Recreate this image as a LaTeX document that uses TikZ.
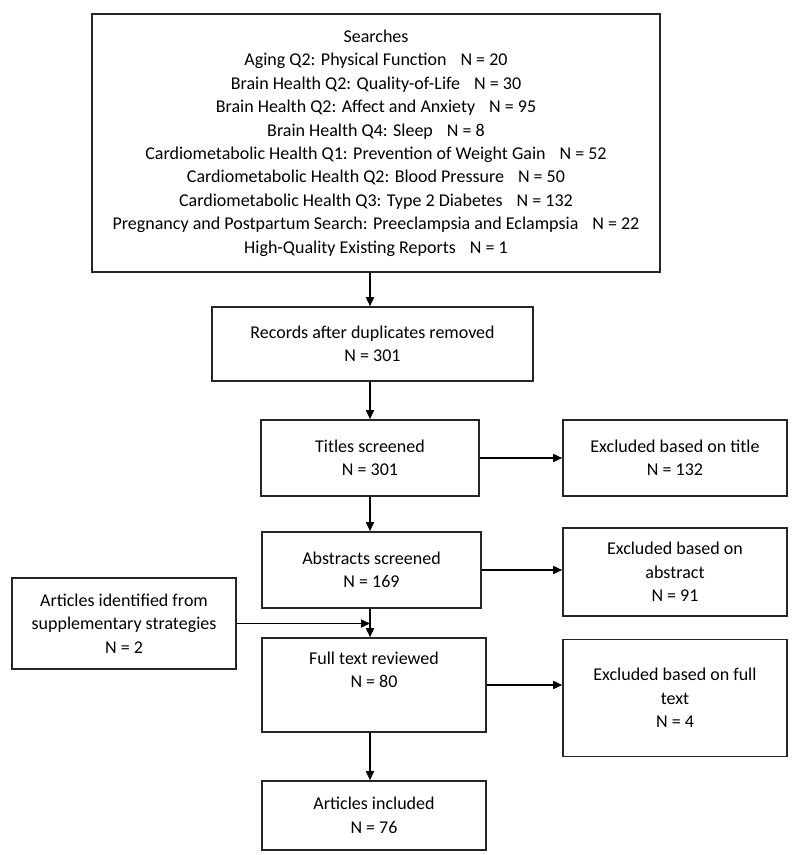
\documentclass[tikz,border=0pt]{standalone}
\usepackage{fontspec}
\setmainfont{Carlito}
\usetikzlibrary{arrows.meta}
\newcommand{\gp}{\hspace{14pt}}
\begin{document}
\begin{tikzpicture}[x=1pt,y=-1pt,
  box/.style={draw=black!85, line width=1.6pt, rectangle, align=center, inner sep=0pt,
    font=\fontsize{18}{23.4}\selectfont},
  arr/.style={draw=black, line width=1.6pt, -{Triangle[length=9pt,width=8pt]}}]
\useasboundingbox (0,0) rectangle (800,855);
\node[box, minimum width=568pt, minimum height=258pt] (top) at (376,143) {Searches\\
Aging Q2: Physical Function\gp N = 20\\
Brain Health Q2: Quality-of-Life\gp N = 30\\
Brain Health Q2: Affect and Anxiety\gp N = 95\\
Brain Health Q4: Sleep\gp N = 8\\
Cardiometabolic Health Q1: Prevention of Weight Gain\gp N = 52\\
Cardiometabolic Health Q2: Blood Pressure\gp N = 50\\
Cardiometabolic Health Q3: Type 2 Diabetes\gp N = 132\\
Pregnancy and Postpartum Search: Preeclampsia and Eclampsia\gp N = 22\\
High-Quality Existing Reports\gp N = 1};
\node[box, minimum width=321pt, minimum height=74pt] (records) at (372.5,344) {Records after duplicates removed\\N = 301};
\node[box, minimum width=218pt, minimum height=76pt] (titles) at (370,458) {Titles screened\\N = 301};
\node[box, minimum width=224pt, minimum height=76pt] (exclT) at (675,458) {Excluded based on title\\N = 132};
\node[box, minimum width=219pt, minimum height=76pt] (abstracts) at (371.5,570) {Abstracts screened\\N = 169};
\node[box, minimum width=224pt, minimum height=88pt] (exclA) at (675,572) {Excluded based on\\abstract\\N = 91};
\node[box, minimum width=224pt, minimum height=91pt] (articles) at (124,623.5) {Articles identified from\\supplementary strategies\\N = 2};
\node[box, minimum width=224pt, minimum height=94pt] (fulltext) at (374,685) {Full text reviewed\\N = 80\\\strut};
\node[box, minimum width=224pt, minimum height=117pt] (exclF) at (675,698) {Excluded based on full\\text\\N = 4};
\node[box, minimum width=224pt, minimum height=69pt] (included) at (374,815.5) {Articles included\\N = 76};
\draw[arr] (top.south -| titles.north) -- (records.north -| titles.north);
\draw[arr] (records.south -| titles.north) -- (titles.north);
\draw[arr] (titles.south) -- (abstracts.north -| titles.south);
\draw[arr] (abstracts.south -| titles.south) -- (fulltext.north -| titles.south);
\draw[arr] (fulltext.south -| titles.south) -- (included.north -| titles.south);
\draw[arr] (articles.east) -- (articles.east -| titles.south);
\draw[arr] (titles.east) -- (exclT.west);
\draw[arr] (abstracts.east) -- (abstracts.east -| exclA.west);
\draw[arr] (fulltext.east) -- (fulltext.east -| exclF.west);
\end{tikzpicture}
\end{document}
